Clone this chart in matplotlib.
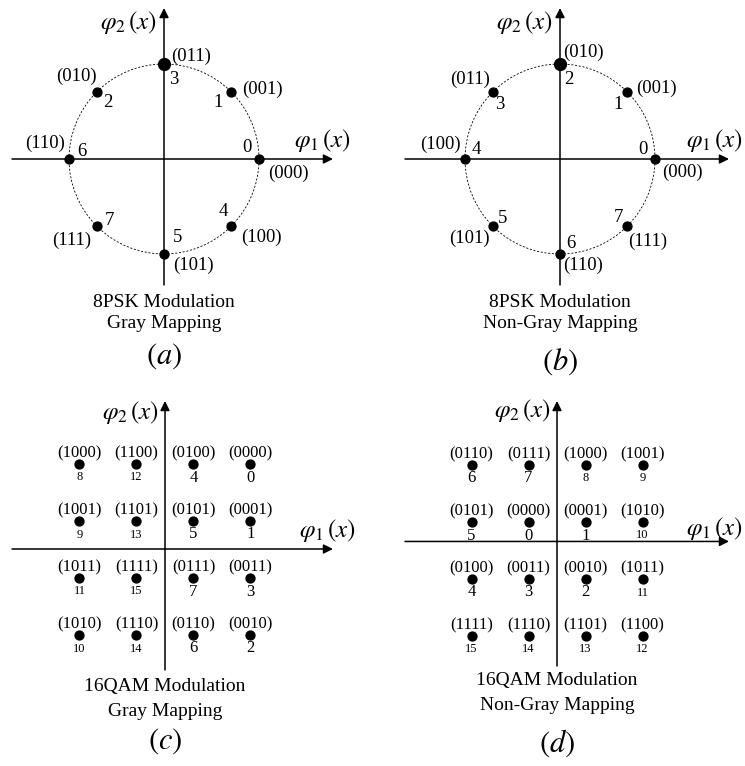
import numpy as np
import matplotlib
matplotlib.use("Agg")
import matplotlib.pyplot as plt
from matplotlib.patches import Circle

plt.rcParams['font.family'] = ['Liberation Serif', 'DejaVu Serif']
plt.rcParams['mathtext.fontset'] = 'stix'

# 8PSK: constellation angles and the symbol sitting at each angle
psk_angles = [0, 45, 90, 135, 180, 225, 270, 315]
psk_gray = [0, 1, 3, 2, 6, 7, 5, 4]
psk_natural = [0, 1, 2, 3, 4, 5, 6, 7]

# 16QAM: amplitude levels, rows from top to bottom, columns left to right
qam_levels = [-3, -1, 1, 3]
qam_gray = [[8, 12, 4, 0],
            [9, 13, 5, 1],
            [11, 15, 7, 3],
            [10, 14, 6, 2]]
qam_natural = [[6, 7, 8, 9],
               [5, 0, 1, 10],
               [4, 3, 2, 11],
               [15, 14, 13, 12]]

W, H = 745, 766
fig = plt.figure(figsize=(W / 100, H / 100), dpi=100)

# label offsets (pixels, image y down) for the 8PSK panels
a_num_off = [(-12, -11), (-13, 11), (10, 16), (11, 11), (13, -7), (13, -6), (14, -17), (-8, -15)]
a_bit_off = [(29, 14), (31, -2), (27, -8), (-20, -15), (-24, -16), (-25, 14), (29, 11), (30, 11)]
b_num_off = [(-12, -9), (-9, 13), (9, 15), (7, 13), (11, -10), (10, -8), (11, -11), (-9, -9)]
b_bit_off = [(27, 13), (29, -3), (23, -12), (-23, -12), (-25, -15), (-23, 12), (23, 11), (21, 15)]


def panel_axes(ox, oy, scale, x0, x1, y0, y1):
    ax = fig.add_axes([x0 / W, 1 - y1 / H, (x1 - x0) / W, (y1 - y0) / H])
    ax.set_xlim((x0 - ox) / scale, (x1 - ox) / scale)
    ax.set_ylim((oy - y1) / scale, (oy - y0) / scale)
    ax.axis('off')
    return ax


def arrow(ax, start, end):
    ax.annotate('', xy=end, xytext=start,
                arrowprops=dict(arrowstyle='-|>', color='k', lw=1.1,
                                mutation_scale=14, shrinkA=0, shrinkB=0))


def ftext(x, y, s, size, **kw):
    fig.text(x / W, 1 - y / H, s, fontsize=size, ha='center', va='center', **kw)


def psk_panel(ox, x0, x1, symbols, num_off, bit_off, hx, vx, title2, letter):
    scale = 95
    ax = panel_axes(ox, 159, scale, x0, x1, 0, 383)
    arrow(ax, ((hx[0] - ox) / scale, 0), ((hx[1] - ox) / scale, 0))
    arrow(ax, (0, -(285 - 159) / scale), (0, (159 - 8) / scale))
    ax.add_patch(Circle((0, 0), 1, fill=False, ls=(0, (2.5, 2)), lw=0.6, color='k'))
    for ang, sym, no, bo in zip(psk_angles, symbols, num_off, bit_off):
        x, y = np.cos(np.radians(ang)), np.sin(np.radians(ang))
        ms = 8.5 if ang == 90 else 6.4
        ax.plot(x, y, 'o', color='k', ms=ms, clip_on=False)
        ax.annotate(str(sym), (x, y), xytext=(no[0], -no[1]), textcoords='offset pixels',
                    ha='center', va='center', fontsize=13.5)
        ax.annotate('(' + format(sym, '03b') + ')', (x, y), xytext=(bo[0], -bo[1]),
                    textcoords='offset pixels', ha='center', va='center', fontsize=13.5)
    ftext(vx[0], vx[1], r'$\varphi_2\,(x)$', 18)
    ftext(hx[2], hx[3], r'$\varphi_1\,(x)$', 18)
    ftext(ox, 302, '8PSK Modulation', 14)
    ftext(ox, 324, title2, 14)
    ftext(ox, letter, '$(' + 'ab'[x0 > 0] + ')$', 22)


psk_panel(164, 0, 372, psk_gray, a_num_off, a_bit_off, (12, 333, 322, 140), (128, 22),
          'Gray Mapping', 356)
psk_panel(560, 372, 745, psk_natural, b_num_off, b_bit_off, (405, 729, 714, 140), (524, 22),
          'Non-Gray Mapping', 362)


def qam_panel(px, py, x0, x1, grid, hy, hx, vx, top, bottom, title2, cap_y, letter):
    scale = 28.5
    ax = panel_axes(px, py, scale, x0, x1, 383, 766)
    arrow(ax, ((hx[0] - px) / scale, hy), ((hx[1] - px) / scale, hy))
    arrow(ax, (0, -(bottom - py) / scale), (0, (py - top) / scale))
    for r, yv in enumerate(qam_levels[::-1]):
        for c, xv in enumerate(qam_levels):
            sym = grid[r][c]
            ax.plot(xv, yv, 'o', color='k', ms=6.4)
            ax.annotate('(' + format(sym, '04b') + ')', (xv, yv), xytext=(0, 10),
                        textcoords='offset pixels', ha='center', va='center', fontsize=12)
            ax.annotate(str(sym), (xv, yv), xytext=(0, -14), textcoords='offset pixels',
                        ha='center', va='center', fontsize=9 if sym >= 8 else 12)
    ftext(vx[0], vx[1], r'$\varphi_2\,(x)$', 18)
    ftext(hx[2], hx[3], r'$\varphi_1\,(x)$', 18)
    ftext(px, cap_y[0], '16QAM Modulation', 14)
    ftext(px, cap_y[1], title2, 14)
    ftext(px, cap_y[2], '$(' + letter + ')$', 22)


qam_panel(165, 549, 0, 372, qam_gray, 0, (12, 333, 327, 530), (130, 413), 401, 670,
          'Gray Mapping', (686, 711, 741), 'c')
qam_panel(557, 550, 372, 745, qam_natural, 0.3, (405, 729, 714, 528), (522, 411), 401, 666,
          'Non-Gray Mapping', (681, 705, 743), 'd')

fig.savefig('out.png', dpi=100)
